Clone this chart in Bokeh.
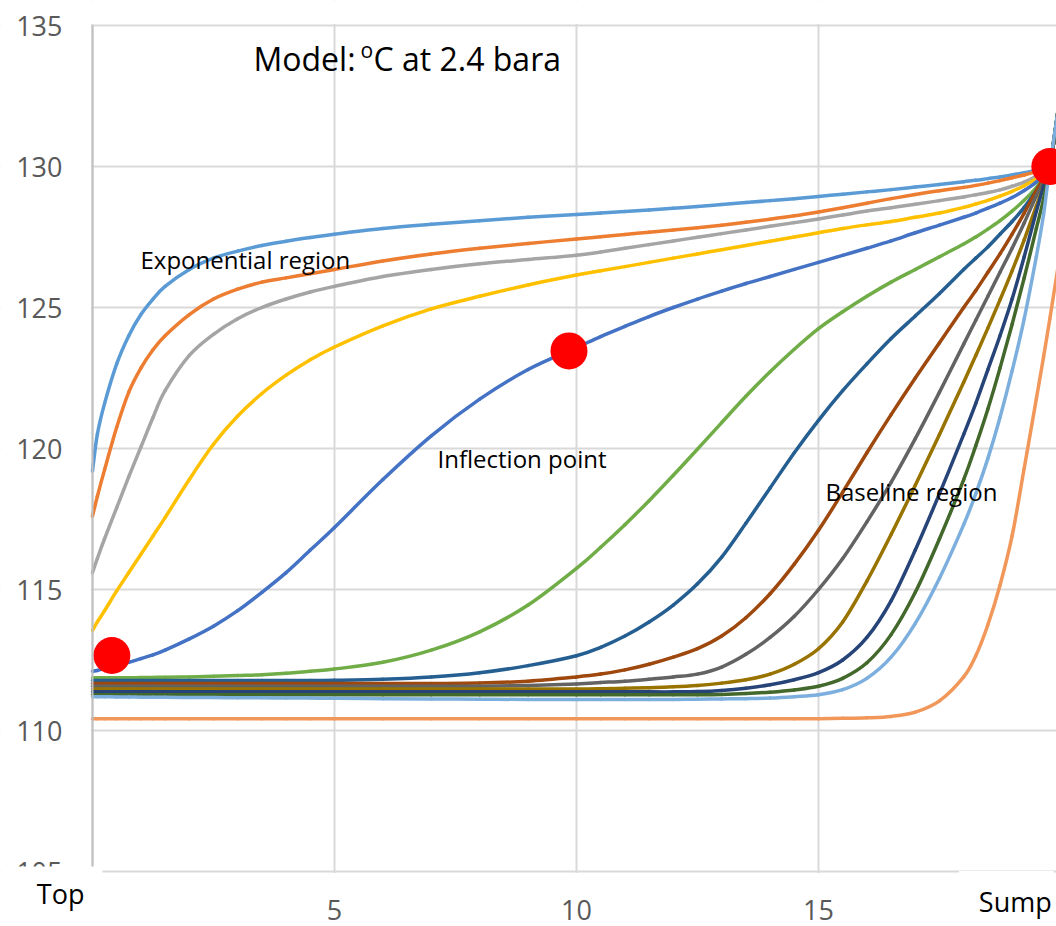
from bokeh.plotting import figure
from bokeh.models import Range1d, FixedTicker, Label, BoxAnnotation, ColumnDataSource
from bokeh.embed import file_html
from bokeh.resources import INLINE

# Column stage position (Top = 0 ... Sump = 20)
stage = [0, 0.1, 0.25, 0.5, 0.75, 1, 1.25, 1.5, 2, 2.5, 3, 3.5, 4, 4.5, 5,
         6, 7, 8, 9, 10, 10.5, 11, 11.5, 12, 12.5, 13, 13.5, 14, 14.5, 15,
         15.5, 16, 16.5, 17, 17.5, 18, 18.25, 18.5, 18.75, 19, 19.25, 19.5,
         19.65, 19.78, 20]

# Modelled temperature profiles (deg C at 2.4 bara), one per run
profile_01 = [119.2, 120.5, 121.6, 123.0, 124.0, 124.75, 125.3, 125.75, 126.35, 126.75,
              127.0, 127.2, 127.35, 127.48, 127.6, 127.8, 127.95, 128.08, 128.2, 128.3,
              128.35, 128.4, 128.46, 128.52, 128.58, 128.65, 128.72, 128.79, 128.86, 128.94,
              129.02, 129.1, 129.18, 129.27, 129.36, 129.46, 129.51, 129.57, 129.63, 129.7,
              129.78, 129.87, 129.93, 130.0, 132.6]
profile_02 = [117.6, 118.3, 119.25, 120.75, 122.0, 122.85, 123.5, 124.0, 124.75, 125.3,
              125.65, 125.9, 126.05, 126.2, 126.35, 126.65, 126.9, 127.1, 127.27, 127.43,
              127.51, 127.59, 127.67, 127.75, 127.83, 127.92, 128.02, 128.13, 128.25, 128.39,
              128.54, 128.7, 128.86, 129.01, 129.14, 129.26, 129.33, 129.41, 129.5, 129.6,
              129.7, 129.82, 129.9, 130.0, 132.6]
profile_03 = [115.6, 116.1, 116.8, 117.9, 119.0, 120.05, 121.1, 122.05, 123.3, 124.05,
              124.6, 125.0, 125.3, 125.55, 125.75, 126.1, 126.35, 126.55, 126.7, 126.85,
              126.97, 127.1, 127.23, 127.36, 127.49, 127.62, 127.75, 127.88, 128.01, 128.14,
              128.28, 128.42, 128.54, 128.66, 128.79, 128.92, 129.0, 129.08, 129.17, 129.3,
              129.45, 129.65, 129.8, 130.0, 132.6]
profile_04 = [113.55, 113.85, 114.25, 114.95, 115.6, 116.25, 116.9, 117.55, 118.9, 120.15,
              121.15, 121.95, 122.6, 123.15, 123.6, 124.35, 124.95, 125.4, 125.8, 126.15,
              126.3, 126.45, 126.6, 126.75, 126.9, 127.05, 127.2, 127.35, 127.5, 127.65,
              127.8, 127.93, 128.05, 128.2, 128.35, 128.55, 128.67, 128.8, 128.95, 129.12,
              129.32, 129.57, 129.75, 130.0, 132.6]
profile_05 = [112.1, 112.13, 112.2, 112.3, 112.42, 112.55, 112.68, 112.85, 113.25, 113.7,
              114.25, 114.9, 115.6, 116.4, 117.2, 118.9, 120.45, 121.75, 122.8, 123.58,
              123.97, 124.33, 124.68, 125.0, 125.3, 125.58, 125.85, 126.1, 126.35, 126.6,
              126.85, 127.1, 127.36, 127.65, 127.92, 128.2, 128.35, 128.52, 128.7, 128.9,
              129.15, 129.45, 129.7, 130.0, 132.6]
profile_06 = [111.87, 111.87, 111.87, 111.87, 111.87, 111.88, 111.88, 111.89, 111.9, 111.92,
              111.95, 111.98, 112.03, 112.1, 112.18, 112.42, 112.85, 113.5, 114.45, 115.75,
              116.5, 117.3, 118.15, 119.05, 119.98, 120.92, 121.85, 122.72, 123.52, 124.25,
              124.85, 125.4, 125.9, 126.35, 126.8, 127.25, 127.5, 127.78, 128.08, 128.42,
              128.8, 129.25, 129.6, 130.0, 132.6]
profile_07 = [111.77, 111.77, 111.77, 111.77, 111.77, 111.77, 111.77, 111.77, 111.77, 111.77,
              111.77, 111.77, 111.77, 111.77, 111.78, 111.82, 111.9, 112.05, 112.3, 112.65,
              112.95, 113.35, 113.85, 114.45, 115.2, 116.15, 117.35, 118.6, 119.85, 121.0,
              122.05, 123.0, 123.9, 124.7, 125.5, 126.35, 126.75, 127.15, 127.6, 128.05,
              128.55, 129.15, 129.55, 130.0, 132.6]
profile_08 = [111.67, 111.67, 111.67, 111.67, 111.67, 111.67, 111.67, 111.67, 111.67, 111.67,
              111.67, 111.67, 111.67, 111.67, 111.67, 111.67, 111.67, 111.68, 111.75, 111.9,
              112.0, 112.15, 112.35, 112.6, 112.9, 113.35, 114.0, 114.85, 115.9, 117.1,
              118.45, 119.85, 121.2, 122.5, 123.75, 125.0, 125.6, 126.25, 126.9, 127.6,
              128.35, 129.15, 129.6, 130.0, 132.6]
profile_09 = [111.57, 111.57, 111.57, 111.57, 111.57, 111.57, 111.57, 111.57, 111.57, 111.57,
              111.57, 111.57, 111.57, 111.57, 111.57, 111.57, 111.57, 111.57, 111.6, 111.65,
              111.7, 111.75, 111.82, 111.9, 112.0, 112.25, 112.7, 113.3, 114.05, 115.0,
              116.1, 117.4, 118.8, 120.35, 122.0, 123.7, 124.55, 125.4, 126.25, 127.1,
              128.0, 128.95, 129.45, 130.0, 132.6]
profile_10 = [111.47, 111.47, 111.47, 111.47, 111.47, 111.47, 111.47, 111.47, 111.47, 111.47,
              111.47, 111.47, 111.47, 111.47, 111.47, 111.47, 111.47, 111.47, 111.47, 111.47,
              111.48, 111.5, 111.52, 111.55, 111.6, 111.68, 111.8, 112.0, 112.35, 112.9,
              113.85, 115.3, 116.95, 118.7, 120.5, 122.35, 123.3, 124.27, 125.27, 126.3,
              127.4, 128.6, 129.3, 130.0, 132.6]
profile_11 = [111.37, 111.37, 111.37, 111.37, 111.37, 111.37, 111.37, 111.37, 111.37, 111.37,
              111.37, 111.37, 111.37, 111.37, 111.37, 111.37, 111.37, 111.37, 111.37, 111.37,
              111.37, 111.37, 111.37, 111.37, 111.38, 111.42, 111.5, 111.62, 111.8, 112.05,
              112.5, 113.3, 114.6, 116.4, 118.4, 120.5, 121.6, 122.8, 124.0, 125.3,
              126.8, 128.4, 129.3, 130.0, 132.6]
profile_12 = [111.27, 111.27, 111.27, 111.27, 111.27, 111.27, 111.27, 111.27, 111.27, 111.27,
              111.27, 111.27, 111.27, 111.27, 111.27, 111.27, 111.27, 111.27, 111.27, 111.27,
              111.27, 111.27, 111.27, 111.27, 111.27, 111.28, 111.31, 111.36, 111.44, 111.57,
              111.85, 112.4, 113.4, 114.9, 116.8, 118.9, 120.1, 121.4, 122.85, 124.4,
              126.05, 127.8, 128.85, 130.0, 132.6]
profile_13 = [111.2, 111.2, 111.2, 111.19, 111.19, 111.18, 111.18, 111.18, 111.17, 111.17,
              111.16, 111.16, 111.15, 111.15, 111.14, 111.13, 111.12, 111.11, 111.1, 111.1,
              111.1, 111.1, 111.1, 111.1, 111.11, 111.12, 111.13, 111.15, 111.2, 111.27,
              111.45, 111.85, 112.6, 113.8, 115.4, 117.3, 118.4, 119.65, 121.1, 122.75,
              124.6, 126.8, 128.3, 130.0, 132.6]
profile_14 = [110.42, 110.42, 110.42, 110.42, 110.42, 110.42, 110.42, 110.42, 110.42, 110.42,
              110.42, 110.42, 110.42, 110.42, 110.42, 110.42, 110.42, 110.42, 110.42, 110.42,
              110.42, 110.42, 110.42, 110.42, 110.42, 110.42, 110.42, 110.42, 110.42, 110.42,
              110.43, 110.45, 110.5, 110.65, 111.05, 111.9, 112.65, 113.75, 115.15, 116.9,
              119.3, 121.75, 123.25, 124.6, 127.0]

profiles = [profile_01, profile_02, profile_03, profile_04, profile_05, profile_06, profile_07,
            profile_08, profile_09, profile_10, profile_11, profile_12, profile_13, profile_14]
profile_colors = ["#5B9BD5", "#ED7D31", "#A5A5A5", "#FFC000", "#4472C4", "#70AD47", "#255E91",
                  "#9E480E", "#636363", "#997300", "#264478", "#43682B", "#7CAFDD", "#F1975A"]

# Highlighted points: top of column, inflection point, sump
marker_x = [0.40, 9.845, 19.78]
marker_y = [112.66, 123.46, 130.0]

x_ticks = [0, 5, 10, 15, 20]
y_ticks = [105, 110, 115, 120, 125, 130, 135]

# Canvas geometry: the frame fills the canvas, axes sit at fixed data locations
W, H = 1056, 926
AXIS_PX, TOP_PX = 92, 25
PX_PER_X = 48.4      # pixels per stage
PX_PER_Y = 28.2      # pixels per degree
x_lo = -AXIS_PX / PX_PER_X
x_hi = (W - AXIS_PX) / PX_PER_X
y_hi = 135 + TOP_PX / PX_PER_Y
y_lo = 135 - (H - TOP_PX) / PX_PER_Y

FONT = "Open Sans"
TICK_COLOR = "#595959"
GRID_COLOR = "#D9D9D9"

p = figure(width=W, height=H, x_range=Range1d(x_lo, x_hi), y_range=Range1d(y_lo, y_hi),
           output_backend="svg", toolbar_location=None,
           min_border_left=0, min_border_right=0, min_border_top=0, min_border_bottom=0)
p.outline_line_color = None
p.background_fill_color = "white"
p.border_fill_color = "white"

# Axes
p.xaxis.ticker = FixedTicker(ticks=x_ticks)
p.xaxis.fixed_location = 105
p.xaxis.axis_line_color = None
p.yaxis.ticker = FixedTicker(ticks=y_ticks)
p.yaxis.fixed_location = 0
p.yaxis.bounds = (105, 135)
p.yaxis.axis_line_color = "#BFBFBF"
p.yaxis.axis_line_width = 2
for ax in (p.xaxis, p.yaxis):
    ax.major_tick_line_color = None
    ax.minor_tick_line_color = None
    ax.major_tick_out = 0
    ax.major_tick_in = 0
    ax.minor_tick_out = 0
    ax.major_label_text_font = FONT
    ax.major_label_text_font_size = "27px"
    ax.major_label_text_color = TICK_COLOR
p.yaxis.major_label_standoff = 30
p.xaxis.major_label_standoff = 28

# Grid
p.xgrid.ticker = FixedTicker(ticks=x_ticks)
p.ygrid.ticker = FixedTicker(ticks=y_ticks)
for g in (p.xgrid, p.ygrid):
    g.grid_line_color = GRID_COLOR
    g.grid_line_width = 2

# keep grid lines inside the 0..20 x 105..135 plot box
for box in (dict(top=104.95), dict(bottom=135.05), dict(right=-0.03)):
    p.add_layout(BoxAnnotation(fill_color="white", fill_alpha=1.0, line_color=None,
                               level="underlay", **box))


def smooth_segments(xs, ys):
    """Cubic Bezier pieces through every point (smoothed-line style)."""
    n = len(xs)
    seg = {k: [] for k in ("x0", "y0", "x1", "y1", "cx0", "cy0", "cx1", "cy1")}
    for i in range(n - 1):
        a, d = max(i - 1, 0), min(i + 2, n - 1)
        seg["x0"].append(xs[i])
        seg["y0"].append(ys[i])
        seg["x1"].append(xs[i + 1])
        seg["y1"].append(ys[i + 1])
        seg["cx0"].append(xs[i] + (xs[i + 1] - xs[a]) / 6)
        seg["cy0"].append(ys[i] + (ys[i + 1] - ys[a]) / 6)
        seg["cx1"].append(xs[i + 1] - (xs[d] - xs[i]) / 6)
        seg["cy1"].append(ys[i + 1] - (ys[d] - ys[i]) / 6)
    return ColumnDataSource(seg)


for ys, c in zip(profiles, profile_colors):
    p.bezier(x0="x0", y0="y0", x1="x1", y1="y1", cx0="cx0", cy0="cy0", cx1="cx1", cy1="cy1",
             source=smooth_segments(stage, ys), line_color=c, line_width=3.5, line_cap="round")

p.scatter(marker_x, marker_y, size=37, fill_color="#FF0000", line_color=None)


# Text (x in stages, baseline y in degrees; lifted to sit on the intended baseline)
def text(x, y, s, size_px, align="left", pad=None):
    lift = 0.37 * size_px / PX_PER_Y
    lab = Label(x=x, y=y + lift, text=s, text_font=FONT, text_font_size=f"{size_px}px",
                text_color="black", text_align=align, text_baseline="alphabetic")
    if pad is not None:
        lab.background_fill_color = "white"
        l, r, t, b = pad
        try:
            lab.padding = dict(left=l, right=r, top=t, bottom=b)
        except Exception:
            lab.padding = (max(l, r), max(t, b))
    p.add_layout(lab)


text(3.326, 133.404, "Model:", 32)
text(5.537, 133.865, "o", 21)
text(5.806, 133.404, "C at 2.4 bara", 32)
text(0.992, 126.383, "Exponential region", 24)
text(7.128, 119.326, "Inflection point", 24)
text(15.145, 118.156, "Baseline region", 24)
text(-0.69, 103.865, "Top", 27, align="center", pad=(21, 18, 8, 9))
text(18.88, 103.617, "Sump", 27, align="center", pad=(20, 2, 12, 10))

open("out.html", "w").write(file_html(p, INLINE, title="Temperature profiles"))
